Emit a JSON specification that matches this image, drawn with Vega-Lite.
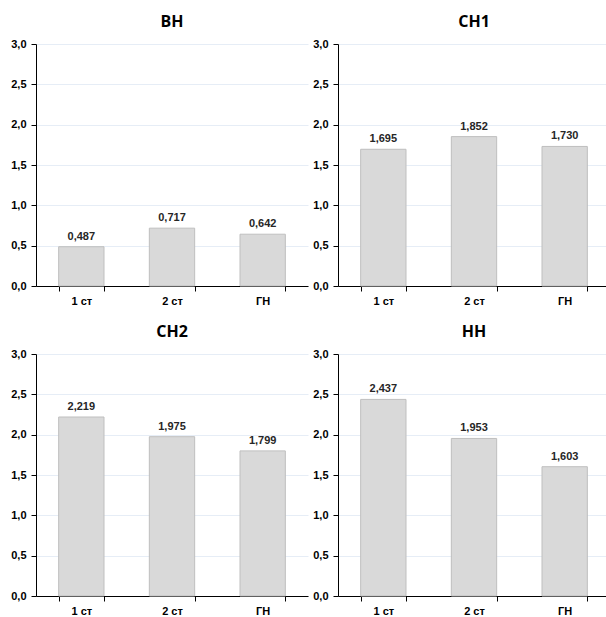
{
  "$schema": "https://vega.github.io/schema/vega-lite/v6.json",
  "background": "white",
  "padding": {"left": 10, "top": 14, "right": 0, "bottom": 0},
  "data": {
    "values": [
      {"panel": "ВН", "cat": "1 ст", "value": 0.487},
      {"panel": "ВН", "cat": "2 ст", "value": 0.717},
      {"panel": "ВН", "cat": "ГН", "value": 0.642},
      {"panel": "СН1", "cat": "1 ст", "value": 1.695},
      {"panel": "СН1", "cat": "2 ст", "value": 1.852},
      {"panel": "СН1", "cat": "ГН", "value": 1.73},
      {"panel": "СН2", "cat": "1 ст", "value": 2.219},
      {"panel": "СН2", "cat": "2 ст", "value": 1.975},
      {"panel": "СН2", "cat": "ГН", "value": 1.799},
      {"panel": "НН", "cat": "1 ст", "value": 2.437},
      {"panel": "НН", "cat": "2 ст", "value": 1.953},
      {"panel": "НН", "cat": "ГН", "value": 1.603}
    ]
  },
  "columns": 2,
  "spacing": {"column": 4, "row": 18},
  "concat": [
    {
      "title": "ВН",
      "width": 272, "height": 242,
      "transform": [{"filter": "datum.panel === 'ВН'"}],
      "encoding": {
        "x": {"field": "cat", "type": "nominal", "sort": ["1 ст", "2 ст", "ГН"], "axis": {"tickBand": "extent"}},
        "y": {"field": "value", "type": "quantitative", "scale": {"domain": [0, 3]}}
      },
      "layer": [
        {"mark": {"type": "bar"}},
        {"mark": {"type": "text"}, "encoding": {"text": {"field": "value", "type": "quantitative", "format": ".3f"}}}
      ]
    },
    {
      "title": "СН1",
      "width": 272, "height": 242,
      "transform": [{"filter": "datum.panel === 'СН1'"}],
      "encoding": {
        "x": {"field": "cat", "type": "nominal", "sort": ["1 ст", "2 ст", "ГН"], "axis": {"tickBand": "extent"}},
        "y": {"field": "value", "type": "quantitative", "scale": {"domain": [0, 3]}}
      },
      "layer": [
        {"mark": {"type": "bar"}},
        {"mark": {"type": "text"}, "encoding": {"text": {"field": "value", "type": "quantitative", "format": ".3f"}}}
      ]
    },
    {
      "title": "СН2",
      "width": 272, "height": 242,
      "transform": [{"filter": "datum.panel === 'СН2'"}],
      "encoding": {
        "x": {"field": "cat", "type": "nominal", "sort": ["1 ст", "2 ст", "ГН"], "axis": {"tickBand": "extent"}},
        "y": {"field": "value", "type": "quantitative", "scale": {"domain": [0, 3]}}
      },
      "layer": [
        {"mark": {"type": "bar"}},
        {"mark": {"type": "text"}, "encoding": {"text": {"field": "value", "type": "quantitative", "format": ".3f"}}}
      ]
    },
    {
      "title": "НН",
      "width": 272, "height": 242,
      "transform": [{"filter": "datum.panel === 'НН'"}],
      "encoding": {
        "x": {"field": "cat", "type": "nominal", "sort": ["1 ст", "2 ст", "ГН"], "axis": {"tickBand": "extent"}},
        "y": {"field": "value", "type": "quantitative", "scale": {"domain": [0, 3]}}
      },
      "layer": [
        {"mark": {"type": "bar"}},
        {"mark": {"type": "text"}, "encoding": {"text": {"field": "value", "type": "quantitative", "format": ".3f"}}}
      ]
    }
  ],
  "config": {
    "locale": {"number": {"decimal": ",", "thousands": " ", "grouping": [3], "currency": ["", ""]}},
    "view": {"stroke": null},
    "font": "Liberation Sans",
    "title": {"font": "Open Sans", "fontSize": 16, "fontWeight": "bold", "color": "#000000", "anchor": "middle", "offset": 8},
    "bar": {"fill": "#d9d9d9", "stroke": "#bfbfbf", "strokeWidth": 1},
    "text": {"font": "Liberation Sans", "fontSize": 11, "fontWeight": "bold", "color": "#262626", "baseline": "bottom", "dy": -5},
    "scale": {"bandPaddingInner": 0.5, "bandPaddingOuter": 0.25},
    "axisX": {"title": null, "labelAngle": 0, "grid": false, "domainColor": "#000000", "tickColor": "#000000", "tickSize": 5, "labelFont": "Liberation Sans", "labelFontSize": 11, "labelFontWeight": "bold", "labelColor": "#000000", "labelPadding": 4},
    "axisY": {"title": null, "values": [0, 0.5, 1, 1.5, 2, 2.5, 3], "format": ".1f", "domainColor": "#000000", "tickColor": "#000000", "tickSize": 5, "gridColor": "#e6edf6", "gridWidth": 1, "labelFont": "Liberation Sans", "labelFontSize": 11, "labelFontWeight": "bold", "labelColor": "#000000", "labelPadding": 5}
  }
}
